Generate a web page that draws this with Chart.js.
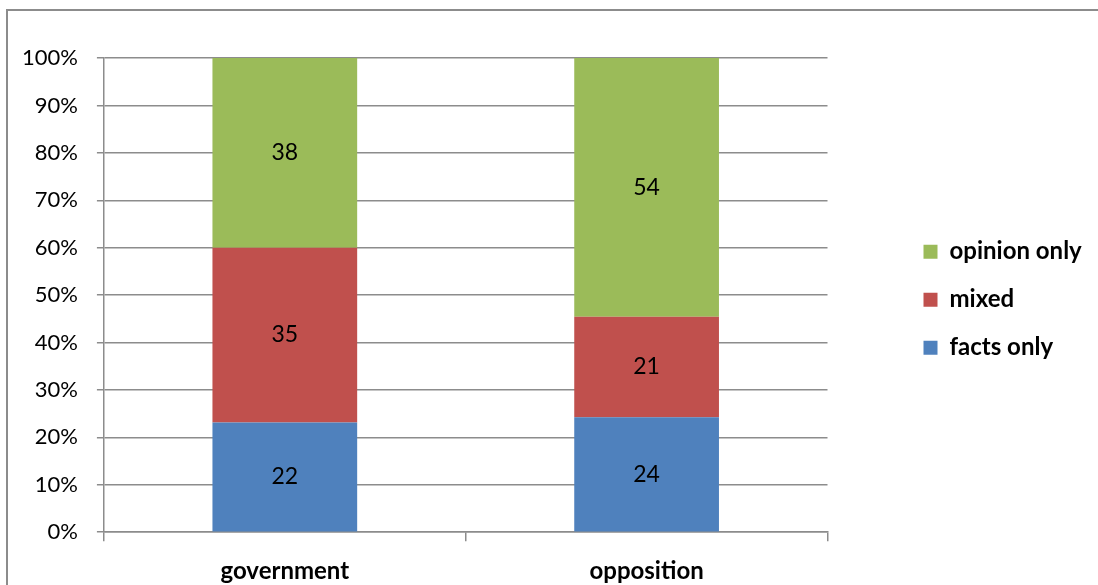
<!DOCTYPE html>
<html>
<head>
<meta charset="utf-8">
<script src="https://cdn.jsdelivr.net/npm/chart.js@4.4.1/dist/chart.umd.min.js"></script>
<style>
  body { margin: 0; background: #fff; overflow: hidden; }
  #wrap { position: relative; width: 1098px; height: 585px; }
  #frame { position: absolute; left: 6px; top: 9px; width: 1100px; height: 600px; border: 2px solid #8c8c8c; box-sizing: border-box; }
  canvas { position: absolute; left: 0; top: 0; }
</style>
</head>
<body>
<div id="wrap">
  <div id="frame"></div>
  <canvas id="chart" width="1098" height="585"></canvas>
</div>
<script>
const categories = ['government', 'opposition'];
const factsOnly = [22, 24];
const mixed = [35, 21];
const opinionOnly = [38, 54];
const yTicks = [0, 10, 20, 30, 40, 50, 60, 70, 80, 90, 100];

const fontFamily = 'Lato, "Liberation Sans", sans-serif';
const gridColor = '#8c8c8c';

// 100% stacked: each bar shown as share of its column total
const totals = categories.map((c, i) => factsOnly[i] + mixed[i] + opinionOnly[i]);
const pct = arr => arr.map((v, i) => v / totals[i] * 100);

const rawValues = [factsOnly, mixed, opinionOnly];

const valueLabels = {
    id: 'valueLabels',
    afterDatasetsDraw(chart) {
        const ctx = chart.ctx;
        ctx.save();
        ctx.font = '23px ' + fontFamily;
        ctx.fillStyle = '#000';
        ctx.textAlign = 'center';
        ctx.textBaseline = 'middle';
        chart.data.datasets.forEach((ds, di) => {
            chart.getDatasetMeta(di).data.forEach((bar, i) => {
                const p = bar.getCenterPoint();
                ctx.fillText(String(rawValues[di][i]), p.x, p.y);
            });
        });
        ctx.restore();
    }
};

// give the legend some spare room on its right so the text isn't clipped
const legendRoom = {
    id: 'legendRoom',
    beforeUpdate(chart) {
        const legend = chart.legend;
        if (!legend || legend._roomPatched) return;
        const fit = legend.fit;
        legend.fit = function () {
            fit.call(this);
            this.width += 16;
        };
        legend._roomPatched = true;
    }
};

const chartCanvas = document.getElementById('chart');
const chartData = {
    labels: categories,
    datasets: [{
        label: 'facts only',
        data: pct(factsOnly),
        backgroundColor: '#4F81BD',
    }, {
        label: 'mixed',
        data: pct(mixed),
        backgroundColor: '#C0504D',
    }, {
        label: 'opinion only',
        data: pct(opinionOnly),
        backgroundColor: '#9BBB59',
    }]
};
const chartConfig = {
    type: 'bar',
    data: chartData,
    options: {
        responsive: false,
        animation: false,
        datasets: {
            bar: {
                barPercentage: 1,
                categoryPercentage: 0.4,
                borderWidth: 0,
            }
        },
        layout: {
            padding: { left: 3, top: 58, right: 0, bottom: -17 }
        },
        scales: {
            x: {
                stacked: true,
                offset: true,
                grid: {
                    offset: true,
                    drawOnChartArea: false,
                    color: gridColor,
                    lineWidth: 1.5,
                    tickLength: 9,
                },
                border: { color: gridColor, width: 1.5 },
                ticks: {
                    color: '#000',
                    padding: 16,
                    font: { family: fontFamily, size: 24, weight: 'bold' },
                },
            },
            y: {
                stacked: true,
                min: 0,
                max: 100,
                afterBuildTicks(scale) {
                    scale.ticks = yTicks.map(v => ({ value: v }));
                },
                grid: {
                    color: gridColor,
                    lineWidth: 1.5,
                    tickLength: 7,
                },
                border: { color: gridColor, width: 1.5 },
                ticks: {
                    color: '#000',
                    padding: 19,
                    font: { family: fontFamily, size: 22 },
                    callback: v => v + '%',
                },
            },
            gap: {
                position: 'right',
                display: true,
                grid: { display: false },
                border: { display: false },
                ticks: { display: false },
                afterFit(scale) { scale.width = 72; },
            },
        },
        plugins: {
            legend: {
                position: 'right',
                fullSize: false,
                reverse: true,
                title: {
                    display: true,
                    text: '',
                    padding: 4,
                    font: { size: 1 },
                },
                labels: {
                    boxWidth: 14,
                    boxHeight: 14,
                    padding: 24,
                    color: '#000',
                    font: { family: fontFamily, size: 24, weight: 'bold' },
                },
            },
            tooltip: { enabled: false },
        },
    },
    plugins: [legendRoom, valueLabels],
};

const chart = new Chart(chartCanvas, chartConfig);
</script>
</body>
</html>
